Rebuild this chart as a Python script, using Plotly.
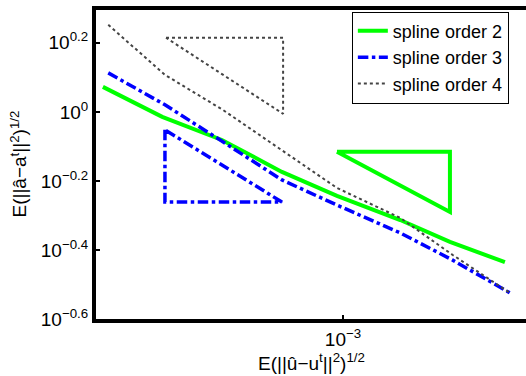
import plotly.graph_objects as go

# ---- data ----
x_order2 = [1.29e-4, 2.14e-4, 3.56e-4, 5.94e-4, 9.50e-4, 1.63e-3, 2.49e-3, 3.98e-3]
y_order2 = [1.181, 0.967, 0.829, 0.670, 0.571, 0.486, 0.420, 0.367]

x_order3 = [1.35e-4, 2.19e-4, 3.59e-4, 5.94e-4, 9.50e-4, 1.63e-3, 2.55e-3, 4.15e-3]
y_order3 = [1.297, 1.048, 0.819, 0.635, 0.537, 0.446, 0.372, 0.299]

x_order4 = [1.35e-4, 2.19e-4, 3.59e-4, 5.94e-4, 9.50e-4, 1.63e-3, 2.55e-3, 4.15e-3]
y_order4 = [1.787, 1.280, 1.013, 0.776, 0.602, 0.493, 0.385, 0.299]

# slope triangles
tri2_x = [9.50e-4, 2.49e-3, 2.49e-3, 9.50e-4]
tri2_y = [0.766, 0.766, 0.513, 0.766]
tri3_x = [2.19e-4, 2.19e-4, 5.94e-4, 2.19e-4]
tri3_y = [0.887, 0.548, 0.548, 0.887]
tri4_x = [2.21e-4, 6.0e-4, 6.0e-4, 2.21e-4]
tri4_y = [1.639, 1.639, 0.987, 1.639]

y_tick_exps = ["−0.6", "−0.4", "−0.2", "0", "0.2"]
y_tick_vals = [10 ** -0.6, 10 ** -0.4, 10 ** -0.2, 1.0, 10 ** 0.2]
x_tick_vals = [1e-3]
x_tick_text = ["10<sup>−3</sup>"]

GREEN = "#00ff00"
BLUE = "#0000ff"
GREY = "#444444"
FONT = "Liberation Sans, Arial, sans-serif"

fig = go.Figure()
fig.add_trace(go.Scatter(x=x_order2, y=y_order2, mode="lines", name="spline order 2",
                         line=dict(color=GREEN, width=4)))
fig.add_trace(go.Scatter(x=x_order3, y=y_order3, mode="lines", name="spline order 3",
                         line=dict(color=BLUE, width=3.5, dash="dashdot")))
fig.add_trace(go.Scatter(x=x_order4, y=y_order4, mode="lines", name="spline order 4",
                         line=dict(color=GREY, width=2, dash="dot")))
fig.add_trace(go.Scatter(x=tri2_x, y=tri2_y, mode="lines", showlegend=False,
                         line=dict(color=GREEN, width=4)))
fig.add_trace(go.Scatter(x=tri3_x, y=tri3_y, mode="lines", showlegend=False,
                         line=dict(color=BLUE, width=3.5, dash="dashdot")))
fig.add_trace(go.Scatter(x=tri4_x, y=tri4_y, mode="lines", showlegend=False,
                         line=dict(color=GREY, width=2, dash="dot")))

fig.update_layout(
    width=526, height=376,
    margin=dict(l=96, r=0, t=10, b=57),
    paper_bgcolor="white", plot_bgcolor="white",
    font=dict(family=FONT, size=19, color="black"),
    showlegend=True,
    legend=dict(x=0.595, y=0.995, xanchor="left", yanchor="top",
                bgcolor="white", bordercolor="black", borderwidth=1,
                font=dict(size=18), tracegroupgap=0, itemwidth=30),
    xaxis=dict(type="log", range=[-3.915, -2.322], showgrid=False, zeroline=False,
               showline=True, linecolor="black", linewidth=4, mirror=True,
               ticks="inside", ticklen=4, tickwidth=2, tickcolor="black",
               tickvals=x_tick_vals, ticktext=x_tick_text,
               tickfont=dict(size=19)),
    yaxis=dict(type="log", range=[-0.6, 0.295], showgrid=False, zeroline=False,
               showline=True, linecolor="black", linewidth=4, mirror=False,
               ticks="inside", ticklen=4, tickwidth=2, tickcolor="black",
               tickvals=y_tick_vals,
               ticktext=["10<sup>%s</sup>" % e for e in y_tick_exps],
               tickfont=dict(size=19)),
    annotations=[
        dict(text="E(||û−u<sup>t</sup>||<sup>2</sup>)<sup>1/2</sup>", xref="paper", yref="paper",
             x=0.50, y=0, yshift=-43, xanchor="center", yanchor="middle",
             showarrow=False, font=dict(size=19)),
        dict(text="E(||â−a<sup>t</sup>||<sup>2</sup>)<sup>1/2</sup>", xref="paper", yref="paper",
             x=0, xshift=-78, y=0.5, xanchor="center", yanchor="middle", textangle=-90,
             showarrow=False, font=dict(size=19)),
    ],
)

fig.write_html("out.html", config={"displayModeBar": False},
               post_script="document.body.style.margin='0';")
